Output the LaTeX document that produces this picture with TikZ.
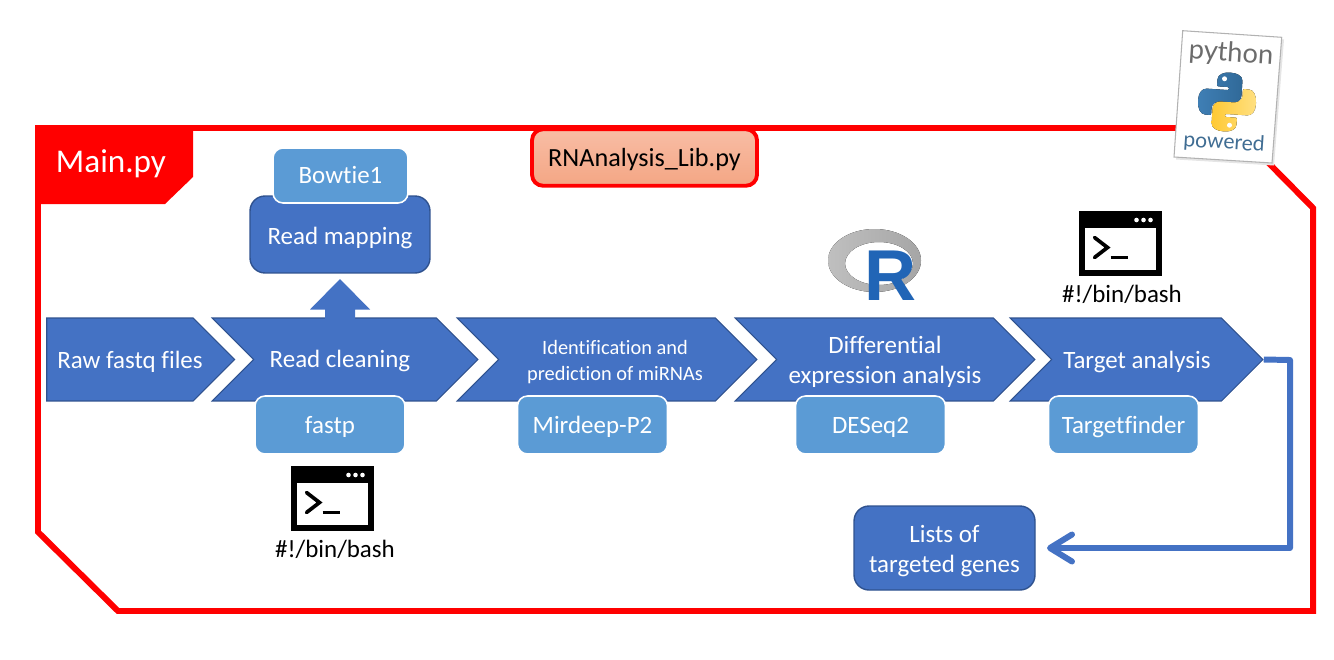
\documentclass[tikz,border=0pt]{standalone}
\usepackage{fontspec}
\setmainfont{Carlito}[Ligatures=NoCommon]
\newfontfamily\logofont{Lato}
\newfontfamily\rfont{Liberation Sans}
\usepackage{tikz}
\usetikzlibrary{shapes.symbols, arrows.meta}
\definecolor{stepblue}{HTML}{4472C4}
\definecolor{stepedge}{HTML}{2F528F}
\definecolor{toolblue}{HTML}{5B9BD5}
\definecolor{libtop}{HTML}{F8BDA5}
\definecolor{libbottom}{HTML}{F4A684}
\definecolor{rblue}{HTML}{2165B6}
\definecolor{pyblueA}{HTML}{3F7FB5}
\definecolor{pyblueB}{HTML}{306998}
\definecolor{pyyellowA}{HTML}{FFC933}
\definecolor{pyyellowB}{HTML}{FFE082}
\tikzset{
chevron/.style={signal, signal from=west, signal to=east, signal pointer angle=90, draw=stepedge, fill=stepblue, line width=0.6pt, inner sep=0pt, minimum height=1.66cm},
steptext/.style={text=white, align=center, font=\fontsize{14.2}{17}\selectfont},
toolbox/.style={draw=white, fill=toolblue, line width=0.9pt, rounded corners=0.2cm, text=white, font=\fontsize{14.2}{17}\selectfont, minimum height=1.16cm, inner sep=0pt},
outbox/.style={draw=stepedge, fill=stepblue, line width=0.8pt, rounded corners=0.3cm, inner sep=0pt},
bashtext/.style={text=black, font=\fontsize{14.2}{17}\selectfont},
termicon/.pic={
\fill[black] (-41.5,-32.5) rectangle (41.5,32.5);
\fill[white] (-35.5,-15.5) rectangle (35.5,26);
\foreach \dx in {16,23,30} {\fill[white] (\dx,-23.5) circle (2.3);}
\draw[black, line width=2.1pt, line cap=round, line join=miter] (-26,-6) -- (-13,4) -- (-26,14);
\draw[black, line width=2.1pt] (-10,14) -- (7,14);
}
}
\begin{document}
\begin{tikzpicture}[x=0.02cm, y=-0.02cm]
\useasboundingbox (0,0) rectangle (1334,659);
% Main frame
\draw[red, line width=3.4pt] (38,128) -- (1234,128) -- (1313,208) -- (1313,611) -- (118,611) -- (38,532) -- cycle;
\fill[red] (35,125) -- (193,125) -- (193,177) -- (165,204) -- (35,204) -- cycle;
\node[text=white, font=\fontsize{18.9}{22}\selectfont] (mainlabel) at (111,164) {Main.py};
% Library box
\node[draw=red, top color=libtop, bottom color=libbottom, line width=2.2pt, rounded corners=0.22cm, minimum width=4.5cm, minimum height=1.13cm, inner sep=0pt, text height=12.6pt, text depth=1.8pt, font=\fontsize{14.9}{17}\selectfont] (library) at (644.5,157.5) {RNAnalysis\_Lib.py};
% Chevrons
\node[chevron, signal from=nowhere, minimum width=3.76cm] (rawfiles) at (120,359.5) {};
\foreach \name/\cx/\boxw in {readclean/345/5.32cm, mirnas/607/6cm, diffexpr/885/6cm, targets/1136.5/5.06cm}{
\node[chevron, minimum width=\boxw] (\name) at (\cx,359.5) {};
}
\node[steptext] (rawtext) at (130,362) {Raw fastq files};
\node[steptext] (cleantext) at (340,361) {Read cleaning};
\node[steptext, font=\fontsize{11.6}{14.7}\selectfont] (mirnatext) at (615,362) {Identification and\\prediction of miRNAs};
\node[steptext] (difftext) at (885,362) {Differential\\expression analysis};
\node[steptext] (targettext) at (1137,362) {Target analysis};
% Read mapping branch
\fill[stepblue] (340,279) -- (370,309.5) -- (355,309.5) -- (355,319) -- (325,319) -- (325,309.5) -- (310,309.5) -- cycle;
\node[outbox, minimum width=3.6cm, minimum height=1.54cm] (readmap) at (340,234.5) {};
\node[steptext] (maptext) at (340,238) {Read mapping};
\node[toolbox, minimum width=2.7cm, minimum height=1.1cm] (bowtie) at (340.5,175.5) {Bowtie1};
% Tools
\foreach \name/\cx/\txt in {fastp/330/fastp, mirdeep/592.5/Mirdeep-P2, deseq/870.5/DESeq2, finder/1123.5/Targetfinder}{
\node[toolbox, minimum width=3cm, text height=12pt, text depth=1.8pt] (\name) at (\cx,425) {\txt};
}
% Output
\node[outbox, minimum width=3.62cm, minimum height=1.68cm] (genes) at (944.5,548) {};
\node[steptext] (genetext) at (944.5,551) {Lists of\\targeted genes};
\coordinate (turnA) at (1290,360);
\coordinate (turnB) at (1290,548);
\coordinate (genetip) at (1047,548);
\draw[stepblue, line width=3.4pt, line join=round, -{Straight Barb[round, length=0.44cm, width=0.54cm, line width=3.4pt]}] (targets.east) -- (turnA) -- (turnB) -- (genetip);
% Terminal icons
\pic at (332.5,498.5) {termicon};
\node[bashtext] (bashA) at (335,549.5) {\#!/bin/bash};
\pic at (1120.5,243.5) {termicon};
\node[bashtext] (bashB) at (1122,294.5) {\#!/bin/bash};
% R logo
\fill[even odd rule, left color=gray!50, right color=gray!70] (874.5,260.5) ellipse (46.5 and 31.5) (879,263.5) ellipse (34 and 21.5);
\node[inner sep=0pt, text=rblue, font=\rfont\bfseries\fontsize{41}{41}\selectfont] (rletter) at (890,275.5) {R};
% Python badge
\fill[gray!20] (1185,33) -- (1284,39.5) -- (1274,165.5) -- (1176,159.5) -- cycle;
\draw[gray!60, fill=white, line width=0.6pt] (1182.7,30.7) -- (1281.7,37.3) -- (1272,163) -- (1174,157) -- cycle;
\node[rotate=-3.8, text=gray!85!black, font=\logofont\fontsize{15.5}{15.5}\selectfont] (pyname) at (1231,54) {python};
\node[rotate=-3.8, text=pyblueB!80!gray, font=\logofont\fontsize{12}{12}\selectfont] (pypowered) at (1224,143) {powered};
\begin{scope}[shift={(1227,102)}, rotate=-3.8]
\foreach \ang/\colA/\colB in {0/pyblueA/pyblueB, 180/pyyellowA/pyyellowB}{
\begin{scope}[rotate=\ang]
\fill[left color=\colA, right color=\colB, rounded corners=0.6pt] (-11,-21) -- (-11,-15) -- (1,-15) -- (1,-12) -- (-20,-12) .. controls (-26,-12) and (-29,-7) .. (-29,0) .. controls (-29,8) and (-26,14) .. (-20,14) -- (-15,14) -- (-15,8) .. controls (-15,3) and (-11,0) .. (-6,0) -- (6,0) .. controls (10,0) and (14,-3) .. (14,-8) -- (14,-21) .. controls (14,-27) and (8,-29.5) .. (1,-29.5) .. controls (-5,-29.5) and (-11,-27) .. (-11,-21) -- cycle;
\fill[white] (-4,-23) circle (2.5);
\end{scope}
}
\end{scope}
\end{tikzpicture}
\end{document}
